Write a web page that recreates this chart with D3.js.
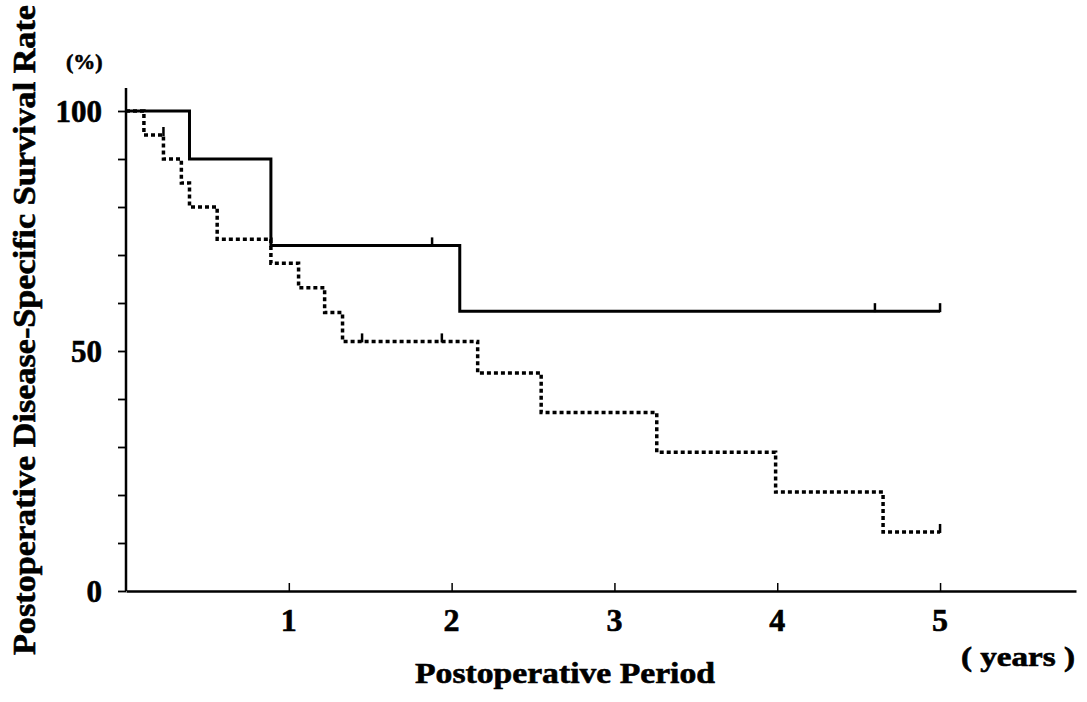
<!DOCTYPE html>
<html lang="en">
<head>
<meta charset="UTF-8">
<title>Postoperative disease-specific survival</title>
<script src="https://d3js.org/d3.v7.min.js"></script>
<style>
  html, body { margin: 0; padding: 0; background: #fff; }
  svg text { font-family: "Liberation Serif", "Times New Roman", serif; font-weight: bold; fill: #000; stroke: #000; stroke-width: 0.6px; }
</style>
</head>
<body>
<div id="chart"></div>
<script>
// solid group (Kaplan-Meier steps)
const solidTimes = [0, 0.39, 0.89, 2.05, 5.0];
const solidSurv  = [100, 90, 72, 58.3, 58.3];
const solidCensorTimes = [1.88, 4.6, 5.0];
const solidCensorSurv  = [72, 58.3, 58.3];

// dotted group
const dottedTimes = [0, 0.11, 0.23, 0.34, 0.39, 0.56, 0.89, 1.06, 1.22, 1.33, 2.16, 2.55, 3.26, 3.99, 4.65, 5.0];
const dottedSurv  = [100, 95, 90, 85, 80, 73.3, 68.3, 63.2, 58, 52, 45.4, 37.2, 28.9, 20.6, 12.3, 12.3];
const dottedCensorTimes = [0.23, 1.45, 1.94, 5.0];
const dottedCensorSurv  = [95, 52, 52, 12.3];

const xTicks = [1, 2, 3, 4, 5];
const yTicks = [0, 10, 20, 30, 40, 50, 60, 70, 80, 90, 100];
const yLabelled = [0, 50, 100];

const width = 1087, height = 702;
const svg = d3.select("#chart").append("svg")
    .attr("width", width).attr("height", height);

const x = d3.scaleLinear().domain([0, 5.835]).range([126, 1076]);
const y = d3.scaleLinear().domain([0, 100]).range([591, 111]);

// y axis
const yAxis = d3.axisLeft(y).tickValues(yTicks).tickSize(8).tickFormat("");
const gy = svg.append("g").attr("transform", `translate(${x(0)},0)`).call(yAxis);
gy.select(".domain").remove();
gy.selectAll(".tick line").attr("stroke", "#000").attr("stroke-width", 1.8);
svg.append("line")
    .attr("x1", x(0)).attr("x2", x(0))
    .attr("y1", y(0)).attr("y2", y(104.8))
    .attr("stroke", "#000").attr("stroke-width", 2.5);

svg.selectAll(".ylab").data(yLabelled).enter().append("text")
    .attr("class", "ylab")
    .attr("x", 102).attr("y", d => y(d) + 11)
    .attr("text-anchor", "end")
    .style("font-size", "31px")
    .text(d => d);

// x axis
const xAxis = d3.axisBottom(x).tickValues(xTicks).tickSizeInner(-8).tickSizeOuter(0).tickFormat("");
const gx = svg.append("g").attr("transform", `translate(0,${y(0)})`).call(xAxis);
gx.select(".domain").attr("stroke", "#000").attr("stroke-width", 2.5);
gx.selectAll(".tick line").attr("stroke", "#000").attr("stroke-width", 1.5);

svg.selectAll(".xlab").data(xTicks).enter().append("text")
    .attr("class", "xlab")
    .attr("x", d => x(d)).attr("y", 631)
    .attr("text-anchor", "middle")
    .style("font-size", "32px")
    .text(d => d);

// titles
svg.append("text")
    .attr("x", 565).attr("y", 683)
    .attr("text-anchor", "middle")
    .attr("textLength", 300).attr("lengthAdjust", "spacingAndGlyphs")
    .style("font-size", "30px")
    .text("Postoperative Period");

svg.append("text")
    .attr("transform", "translate(35,330) rotate(-90)")
    .attr("text-anchor", "middle")
    .attr("textLength", 650).attr("lengthAdjust", "spacingAndGlyphs")
    .style("font-size", "31px")
    .text("Postoperative Disease-Specific Survival Rate");

svg.append("text")
    .attr("x", 66).attr("y", 69)
    .style("font-size", "22px")
    .text("(%)");

svg.append("text")
    .attr("x", 961).attr("y", 666)
    .attr("textLength", 114).attr("lengthAdjust", "spacingAndGlyphs")
    .style("font-size", "27px")
    .text("( years )");

// curves
const line = d3.line().x(d => x(d[0])).y(d => y(d[1])).curve(d3.curveStepAfter);

svg.append("path")
    .datum(d3.zip(solidTimes, solidSurv))
    .attr("d", line)
    .attr("fill", "none").attr("stroke", "#000").attr("stroke-width", 3);

svg.append("path")
    .datum(d3.zip(dottedTimes, dottedSurv))
    .attr("d", line)
    .attr("fill", "none").attr("stroke", "#000").attr("stroke-width", 3.5)
    .attr("stroke-dasharray", "4,3");

// censor marks
const censors = d3.zip(solidCensorTimes, solidCensorSurv).concat(d3.zip(dottedCensorTimes, dottedCensorSurv));
svg.selectAll(".censor").data(censors).enter().append("line")
    .attr("class", "censor")
    .attr("x1", d => x(d[0])).attr("x2", d => x(d[0]))
    .attr("y1", d => y(d[1]) + 1).attr("y2", d => y(d[1]) - 8)
    .attr("stroke", "#000").attr("stroke-width", 2.5);
</script>
</body>
</html>
